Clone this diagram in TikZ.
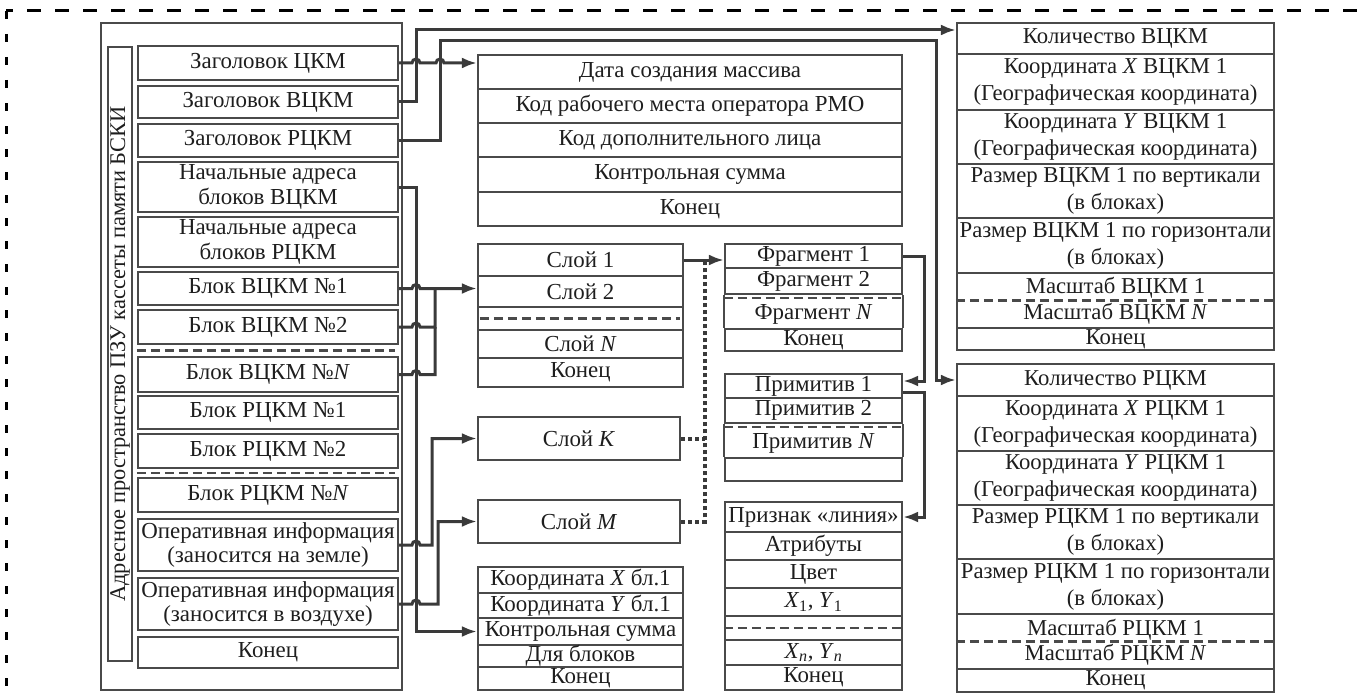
\documentclass[tikz,border=0pt]{standalone}
\usepackage{fontspec}
\setmainfont{Liberation Serif}
\usetikzlibrary{arrows.meta,calc}
\definecolor{ink}{HTML}{1E1E1E}
\definecolor{edgecol}{HTML}{4A4A4A}
\definecolor{wirecol}{HTML}{3A3A3A}
\tikzset{
  cellbox/.style={draw=edgecol, line width=2.2bp, rectangle, inner sep=0pt,
    align=center, text=ink, font=\fontsize{23}{24.5}\selectfont},
  wide/.style={font=\fontsize{22.8}{27}\selectfont},
  txt/.style={inner sep=0pt, text=ink, font=\fontsize{22.8}{24.5}\selectfont},
  rule/.style={draw=edgecol, line width=2.2bp},
  sep/.style={draw=edgecol, line width=2.2bp, dash pattern=on 9bp off 5bp},
  link/.style={draw=wirecol, line width=3bp},
  wire/.style={link, -{Latex[length=15bp,width=11bp]}},
  dots/.style={draw=wirecol, line width=4bp, dash pattern=on 4bp off 3bp},
  frame/.style={draw=black, line width=3bp}
}
% a table cell given by its corners (x1,y1)-(x2,y2), y measured downwards
\newcommand\cell[7][]{\node[cellbox,#1,minimum width={(#5-#3)*1bp},
  minimum height={(#6-#4)*1bp}] (#2) at ({(#3+#5)/2},{(#4+#6)/2}) {#7};}
\begin{document}
\begin{tikzpicture}[x=1bp,y=-1bp]
\useasboundingbox (0,0) rectangle (1362,693);

% open dashed frame
\draw[frame, dash pattern=on 14bp off 14bp, dash phase=7bp] (6,11) -- (1362,11);
\draw[frame, dash pattern=on 8bp off 15bp] (6,11) -- (6,693);

% ---- address space of the ROM cassette
\cell{outer}{101}{23}{402}{690}{}
\node[cellbox, rotate=90, minimum width=614bp, minimum height=24bp,
  font=\fontsize{22.5}{24}\selectfont] (lbl) at (120,354)
  {Адресное пространство ПЗУ кассеты памяти БСКИ};
\cell{L1}{138}{46}{398}{80}{Заголовок ЦКМ}
\cell{L2}{138}{86}{398}{118}{Заголовок ВЦКМ}
\cell{L3}{138}{124}{398}{157}{Заголовок РЦКМ}
\cell{L4}{138}{162}{398}{212}{Начальные адреса\\блоков ВЦКМ}
\cell{L5}{138}{217}{398}{267}{Начальные адреса\\блоков РЦКМ}
\cell{L6}{138}{272}{398}{305}{Блок ВЦКМ №1}
\cell{L7}{138}{310}{398}{344}{Блок ВЦКМ №2}
\cell{L8}{138}{357}{398}{392}{Блок ВЦКМ №\textit{N}}
\cell{L9}{138}{396}{398}{429}{Блок РЦКМ №1}
\cell{L10}{138}{434}{398}{468}{Блок РЦКМ №2}
\cell{L11}{138}{478}{398}{512}{Блок РЦКМ №\textit{N}}
\cell{L12}{138}{519}{398}{571}{Оперативная информация\\(заносится на земле)}
\cell{L13}{138}{578}{398}{630}{Оперативная информация\\(заносится в воздухе)}
\cell{L14}{138}{637}{398}{668}{Конец}
\draw[sep] ($(L7.south west)!0.5!(L8.north west)$) -- ($(L7.south east)!0.5!(L8.north east)+(-4,0)$);
\draw[sep] ($(L10.south west)!0.5!(L11.north west)$) -- ($(L10.south east)!0.5!(L11.north east)+(-4,0)$);

% ---- array header
\cell{A1}{478}{55}{902}{89}{Дата создания массива}
\cell{A2}{478}{89}{902}{123}{Код рабочего места оператора РМО}
\cell{A3}{478}{123}{902}{157}{Код дополнительного лица}
\cell{A4}{478}{157}{902}{192}{Контрольная сумма}
\cell{A5}{478}{192}{902}{226}{Конец}

% ---- layers
\cell{B1}{478}{244}{683}{276}{Слой 1}
\cell{B2}{478}{276}{683}{307}{Слой 2}
\cell{B3}{478}{307}{683}{330}{}
\cell{B4}{478}{330}{683}{358}{Слой \textit{N}}
\cell{B5}{478}{358}{683}{387}{Конец}
\draw[sep] ($(B3.west)+(3,0)$) -- ($(B3.east)+(-4,0)$);
\cell{SK}{478}{417}{680}{460}{Слой \textit{K}}
\cell{SM}{478}{500}{680}{543}{Слой \textit{M}}

% ---- block coordinates
\cell{C1}{478}{567}{683}{593}{Координата \textit{X} бл.1}
\cell{C2}{478}{593}{683}{618}{Координата \textit{Y} бл.1}
\cell{C3}{478}{618}{683}{645}{Контрольная сумма}
\cell{C4}{478}{645}{683}{667}{Для блоков}
\cell{C5}{478}{667}{683}{690}{Конец}

% ---- fragments
\cell{F1}{725}{244}{902}{268}{Фрагмент 1}
\cell{F2}{725}{268}{902}{294}{Фрагмент 2}
\cell[draw=none]{F3}{725}{299}{902}{329}{Фрагмент \textit{N}}
\cell{F4}{725}{329}{902}{351}{Конец}
\draw[rule] (F2.south west) -- (F4.north west) (F2.south east) -- (F4.north east);
\draw[sep] (F3.north west) -- (F3.north east);

% ---- primitives
\cell{P1}{725}{374}{902}{398}{Примитив 1}
\cell{P2}{725}{398}{902}{423}{Примитив 2}
\cell[draw=none]{P3}{725}{428}{902}{458}{Примитив \textit{N}}
\cell{P4}{725}{458}{902}{481}{}
\draw[rule] (P2.south west) -- (P4.north west) (P2.south east) -- (P4.north east);
\draw[sep] (P3.north west) -- (P3.north east);

% ---- line primitive
\cell{Z1}{725}{502}{902}{532}{Признак «линия»}
\cell{Z2}{725}{532}{902}{560}{Атрибуты}
\cell{Z3}{725}{560}{902}{588}{Цвет}
\cell{Z4}{725}{588}{902}{616}{\textit{X}\textsubscript{1}, \textit{Y}\textsubscript{1}}
\cell{Z5}{725}{616}{902}{640}{}
\cell{Z6}{725}{640}{902}{665}{\textit{X}\textsubscript{\textit{n}}, \textit{Y}\textsubscript{\textit{n}}}
\cell{Z7}{725}{665}{902}{690}{Конец}
\draw[sep] (Z5.west) -- (Z5.east);

% ---- ВЦКМ header
\cell[wide]{V1}{957}{23}{1274}{54}{Количество ВЦКМ}
\cell[wide]{V2}{957}{54}{1274}{110}{Координата \textit{X} ВЦКМ 1\\(Географическая координата)}
\cell[wide]{V3}{957}{110}{1274}{164}{Координата \textit{Y} ВЦКМ 1\\(Географическая координата)}
\cell[wide]{V4}{957}{164}{1274}{218}{Размер ВЦКМ 1 по вертикали\\(в блоках)}
\cell[wide]{V5}{957}{218}{1274}{273}{Размер ВЦКМ 1 по горизонтали\\(в блоках)}
\cell{V6}{957}{273}{1274}{328}{}
\node[txt] (V6a) at ($(V6.center)+(0,-13)$) {Масштаб ВЦКМ 1};
\node[txt] (V6b) at ($(V6.center)+(0,13)$) {Масштаб ВЦКМ \textit{N}};
\draw[sep] (V6.west) -- (V6.east);
\cell[wide]{V7}{957}{328}{1274}{350}{Конец}

% ---- РЦКМ header
\cell[wide]{R1}{957}{364}{1274}{396}{Количество РЦКМ}
\cell[wide]{R2}{957}{396}{1274}{451}{Координата \textit{X} РЦКМ 1\\(Географическая координата)}
\cell[wide]{R3}{957}{451}{1274}{505}{Координата \textit{Y} РЦКМ 1\\(Географическая координата)}
\cell[wide]{R4}{957}{505}{1274}{559}{Размер РЦКМ 1 по вертикали\\(в блоках)}
\cell[wide]{R5}{957}{559}{1274}{614}{Размер РЦКМ 1 по горизонтали\\(в блоках)}
\cell{R6}{957}{614}{1274}{669}{}
\node[txt] (R6a) at ($(R6.center)+(0,-12)$) {Масштаб РЦКМ 1};
\node[txt] (R6b) at ($(R6.center)+(0,13)$) {Масштаб РЦКМ \textit{N}};
\draw[sep] (R6.west) -- (R6.east);
\cell[wide]{R7}{957}{669}{1274}{692}{Конец}

% ---- bus positions
\coordinate (busV) at (416,0);
\coordinate (busR) at (440,0);
\coordinate (busB) at (435,0);
\coordinate (busK) at (432,0);
\coordinate (busM) at (438,0);
\coordinate (busD) at (705,0);
\coordinate (busF) at (924,0);
\coordinate (busQ) at (936,0);
\coordinate (railV) at (0,30);
\coordinate (railR) at (0,41);

% ---- connectors
\draw[wire] (L1.east) -- ($(L1.east -| busV)+(-4,0)$) arc[start angle=180,end angle=360,radius=4]
  -- ($(L1.east -| busR)+(-4,0)$) arc[start angle=180,end angle=360,radius=4]
  -- (L1.east -| A1.west);
\draw[wire] (L2.east) -| (busV |- railV) -- (railV -| V1.west);
\draw[wire] (L3.east) -| (busR |- railR) -| (R1.west -| busQ) -- (R1.west);
\draw[wire] (L4.east) -| (busV |- C3.west) -- (C3.west);
\draw[wire] (L6.east) -- ($(L6.east -| busV)+(-4,0)$) arc[start angle=180,end angle=360,radius=4]
  -- (L6.east -| B2.west);
\draw[link] (L7.east) -- ($(L7.east -| busV)+(-4,0)$) arc[start angle=180,end angle=360,radius=4]
  -- (L7.east -| busB) -- (L6.east -| busB);
\draw[link] (L8.east) -- ($(L8.east -| busV)+(-4,0)$) arc[start angle=180,end angle=360,radius=4]
  -- (L8.east -| busB) -- (L7.east -| busB);
\draw[wire] (L12.east) -- ($(L12.east -| busV)+(-4,0)$) arc[start angle=180,end angle=360,radius=4]
  -- (L12.east -| busK) |- (SK.west);
\draw[wire] (L13.east) -- ($(L13.east -| busV)+(-4,0)$) arc[start angle=180,end angle=360,radius=4]
  -- (L13.east -| busM) |- (SM.west);
\draw[wire] (B1.east) -- (B1.east -| F1.west);
\draw[dots] (SM.east) -| (B1.east -| busD);
\draw[dots] (SK.east) -- (SK.east -| busD);
\draw[wire] (F1.east) -| ($(P1.east -| busF)+(0,-5)$) -- ($(P1.east)+(0,-5)$);
\draw[wire] ($(P1.east)+(0,6)$) -| (Z1.east -| busF) -- (Z1.east);
\end{tikzpicture}
\end{document}
